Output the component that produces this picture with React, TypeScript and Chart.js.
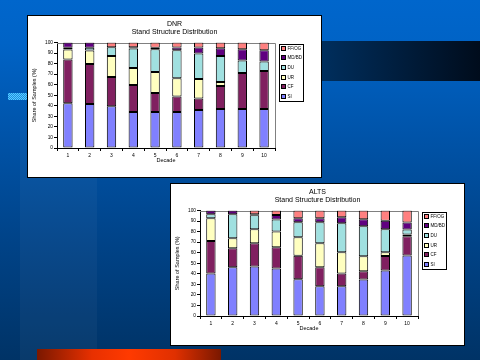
import React, { useEffect, useRef } from 'react';
import { Chart, registerables } from 'chart.js';

Chart.register(...registerables);

// ---------- data ----------
const decades = ['1', '2', '3', '4', '5', '6', '7', '8', '9', '10'];
const seriesNames = ['SI', 'CF', 'UR', 'DU', 'MD/BD', 'FF/OG'];
const seriesColors = ['#8080FF', '#802060', '#FFFFC0', '#A0E0E0', '#600080', '#FF8080'];

const dnrTitle = ['DNR', 'Stand Structure Distribution'];
const dnrSI = [42.5, 41.7, 39.6, 34.1, 34.1, 34.1, 36.0, 36.9, 36.9, 36.9];
const dnrCF = [41.5, 38.0, 27.6, 25.6, 18.0, 14.8, 11.0, 21.8, 34.1, 36.0];
const dnrUR = [9.3, 12.8, 19.9, 16.1, 19.9, 17.3, 18.3, 3.8, 0, 0];
const dnrDU = [1.8, 2.5, 8.5, 18.6, 21.5, 26.5, 24.3, 24.6, 12.0, 9.1];
const dnrMD = [4.9, 5.0, 0, 1.2, 1.5, 2.6, 5.7, 7.5, 10.7, 10.7];
const dnrFF = [0, 0, 4.4, 4.4, 5.0, 4.7, 4.7, 5.4, 6.3, 7.3];

const altsTitle = ['ALTS', 'Stand Structure Distribution'];
const altsSI = [40.4, 46.1, 47.0, 45.1, 34.9, 28.3, 28.3, 34.7, 43.2, 57.4];
const altsCF = [30.7, 18.1, 21.9, 20.0, 22.2, 17.8, 12.1, 7.6, 13.7, 18.3];
const altsUR = [21.6, 9.5, 13.4, 14.9, 17.5, 22.8, 20.0, 14.4, 3.5, 1.5];
const altsDU = [3.8, 22.8, 13.3, 11.5, 14.3, 20.0, 27.6, 28.3, 21.9, 4.8];
const altsMD = [3.5, 3.5, 0.9, 4.2, 3.8, 3.8, 5.7, 6.8, 7.9, 6.6];
const altsFF = [0, 0, 3.5, 4.3, 7.3, 7.3, 6.3, 8.2, 9.8, 11.4];

const xTitle = 'Decade';
const yTitle = 'Share of Samples (%)';

const FONT = '"Liberation Sans", Arial, sans-serif';

const framePlugin = {
  id: 'frame',
  beforeDatasetsDraw(chart: any) {
    const { ctx, chartArea } = chart;
    const { left, top, right, bottom } = chartArea;
    ctx.save();
    ctx.strokeStyle = '#808080';
    ctx.lineWidth = 1;
    ctx.beginPath();
    ctx.moveTo(left, Math.round(top) + 0.5);
    ctx.lineTo(Math.round(right) + 0.5, Math.round(top) + 0.5);
    ctx.lineTo(Math.round(right) + 0.5, bottom);
    ctx.stroke();
    ctx.restore();
  },
  afterDraw(chart: any, _args: any, opts: any) {
    const { ctx, chartArea, width } = chart;
    ctx.save();
    // header
    ctx.fillStyle = '#000';
    ctx.textAlign = 'center';
    ctx.textBaseline = 'middle';
    ctx.font = `7px ${FONT}`;
    const lines: string[] = opts.lines || [];
    lines.forEach((t, i) => ctx.fillText(t, width / 2, 8 + i * 7.7));
    // legend
    const bx = Math.round(chartArea.right) + 4;
    const by = Math.round(chartArea.top) + 1;
    const bw = 24;
    const bh = 57;
    ctx.fillStyle = '#fff';
    ctx.fillRect(bx, by, bw, bh);
    ctx.strokeStyle = '#000';
    ctx.lineWidth = 1;
    ctx.strokeRect(bx + 0.5, by + 0.5, bw, bh);
    const ds = chart.data.datasets.slice().reverse();
    ctx.textAlign = 'left';
    ctx.font = `4.5px ${FONT}`;
    ds.forEach((d: any, i: number) => {
      const cy = Math.round(by + 3.5 + i * 9.7);
      ctx.fillStyle = d.backgroundColor;
      ctx.fillRect(bx + 2, cy - 2, 5, 5);
      ctx.strokeStyle = '#000';
      ctx.strokeRect(bx + 2.5, cy - 1.5, 4, 4);
      ctx.fillStyle = '#000';
      ctx.fillText(d.label, bx + 8.5, cy + 0.5);
    });
    ctx.restore();
  },
};

function StackedChart({ titleLines, values }: { titleLines: string[]; values: number[][] }) {
  const ref = useRef<HTMLCanvasElement>(null);
  useEffect(() => {
    const chart = new Chart(ref.current as HTMLCanvasElement, {
      type: 'bar',
      data: {
        labels: decades,
        datasets: seriesNames.map((name, i) => ({
          label: name,
          data: values[i],
          backgroundColor: seriesColors[i],
          borderColor: '#000',
          borderWidth: 1,
          borderSkipped: false,
          barPercentage: 0.43,
          categoryPercentage: 1,
        })),
      },
      options: {
        animation: false,
        responsive: false,
        events: [],
        layout: { padding: { top: 26.5, right: 46, bottom: 0, left: 0 } },
        plugins: {
          legend: { display: false },
          title: { display: false },
          tooltip: { enabled: false },
          frame: { lines: titleLines },
        } as any,
        scales: {
          x: {
            stacked: true,
            grid: { display: true, drawOnChartArea: false, drawTicks: true, tickLength: 3, color: '#000', offset: true },
            border: { display: true, color: '#000' },
            ticks: { font: { family: FONT, size: 5 }, color: '#000', padding: 2, maxRotation: 0, autoSkip: false },
            title: { display: true, text: xTitle, color: '#000', font: { family: FONT, size: 5.5 }, padding: { top: 0, bottom: 13 } },
            afterFit: (s: any) => { s.height = 29; },
          },
          y: {
            stacked: true,
            min: 0,
            max: 100,
            grid: { display: true, drawOnChartArea: false, drawTicks: true, tickLength: 3, color: '#000' },
            border: { display: true, color: '#000' },
            ticks: { stepSize: 10, font: { family: FONT, size: 4.8 }, color: '#000', padding: 1 },
            title: { display: true, text: yTitle, color: '#000', font: { family: FONT, size: 5.5 }, padding: { top: 3.5, bottom: 0 } },
            afterFit: (s: any) => { s.width = 29; },
          },
        },
      },
      plugins: [framePlugin as any],
    });
    return () => chart.destroy();
  }, []);
  return <canvas ref={ref} width={293} height={161} style={{ display: 'block', width: 293, height: 161 }} />;
}

export default function App() {
  const panel = (left: number, top: number): React.CSSProperties => ({
    position: 'absolute',
    left,
    top,
    width: 293,
    height: 161,
    border: '1px solid #000',
    background: '#fff',
  });
  return (
    <div
      style={{
        position: 'absolute',
        left: 0,
        top: 0,
        width: 480,
        height: 360,
        overflow: 'hidden',
        background: 'linear-gradient(to bottom, #0066CC 0%, #0063C6 12%, #0052A6 40%, #00448A 65%, #003366 100%)',
      }}
    >
      <div style={{ position: 'absolute', left: 20, top: 120, width: 77, height: 240, background: 'rgba(255,255,255,0.035)' }} />
      <div style={{ position: 'absolute', left: 300, top: 41, width: 180, height: 40, background: 'linear-gradient(to right, #003366, #000C1C)' }} />
      <div
        style={{
          position: 'absolute',
          left: 8,
          top: 93,
          width: 19,
          height: 7,
          background: 'repeating-conic-gradient(#5CCBFF 0% 25%, #1A8FE0 0% 50%) 0 0 / 2px 2px',
        }}
      />
      <div
        style={{
          position: 'absolute',
          left: 37,
          top: 349,
          width: 184,
          height: 11,
          background: 'linear-gradient(to right, #7A1800 0%, #E83000 30%, #FF3A00 50%, #E03000 75%, #7A1800 100%)',
        }}
      />
      <div style={panel(27, 15)}>
        <StackedChart titleLines={dnrTitle} values={[dnrSI, dnrCF, dnrUR, dnrDU, dnrMD, dnrFF]} />
      </div>
      <div style={panel(170, 183)}>
        <StackedChart titleLines={altsTitle} values={[altsSI, altsCF, altsUR, altsDU, altsMD, altsFF]} />
      </div>
    </div>
  );
}
